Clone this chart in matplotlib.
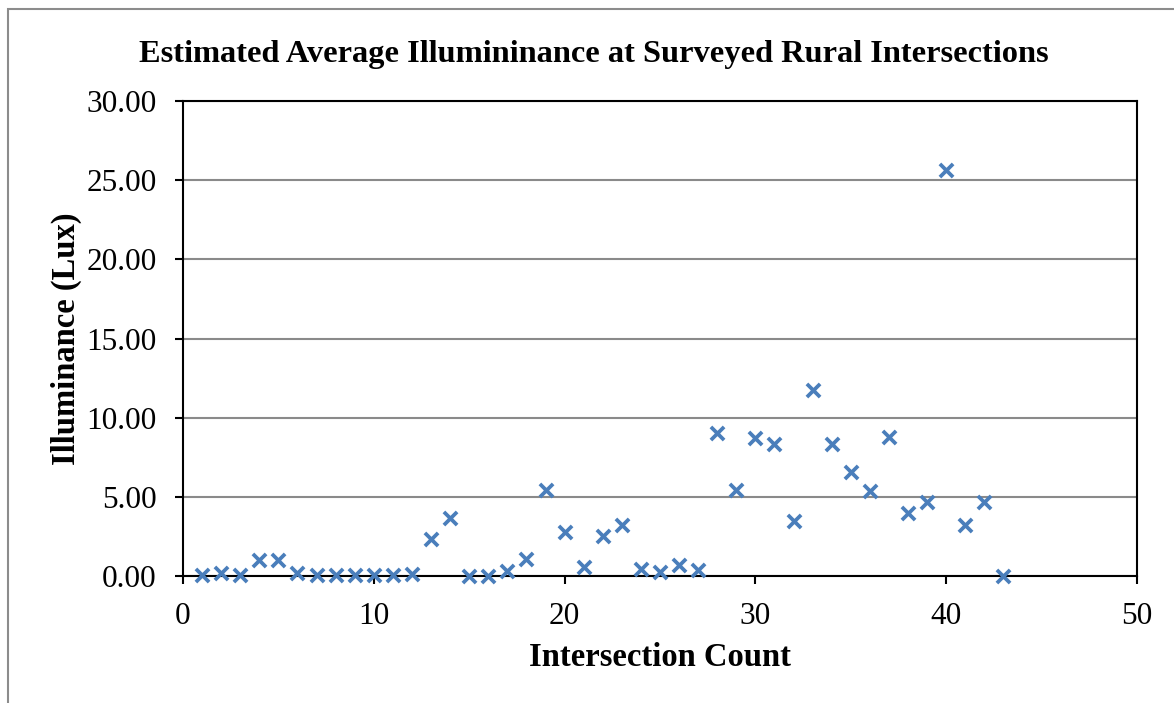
import matplotlib
matplotlib.use("Agg")
import matplotlib.pyplot as plt
from matplotlib.patches import Rectangle

intersection = list(range(1, 44))
illuminance = [0.05, 0.20, 0.05, 1.00, 1.00, 0.20, 0.05, 0.05, 0.05, 0.05,
               0.05, 0.15, 2.35, 3.65, 0.03, 0.03, 0.30, 1.05, 5.45, 2.80,
               0.55, 2.50, 3.20, 0.45, 0.25, 0.70, 0.40, 9.05, 5.45, 8.70,
               8.35, 3.50, 11.75, 8.35, 6.55, 5.40, 8.80, 4.00, 4.65, 25.65,
               3.25, 4.70, 0.03]
x_ticks = [0, 10, 20, 30, 40, 50]
y_ticks = [0, 5, 10, 15, 20, 25, 30]

title = "Estimated Average Illumininance at Surveyed Rural Intersections"
xlabel = "Intersection Count"
ylabel = "Illuminance (Lux)"

plt.rcParams['font.family'] = ['Liberation Serif', 'DejaVu Serif']

fig = plt.figure(figsize=(11.74, 7.03), dpi=100)
fig.patches.append(Rectangle((8/1174, -0.1), 1.2, 1 - 9/703 + 0.1,
                             transform=fig.transFigure, fill=False,
                             edgecolor='#8c8c8c', linewidth=1.5))
ax = fig.add_axes([183/1174, 1 - 576/703, (1137-183)/1174, (576-101)/703])

ax.scatter(intersection, illuminance, marker='x', s=90, color='#4a7ebb',
           linewidths=2.7, zorder=3, clip_on=False)

ax.set_xlim(0, 50)
ax.set_ylim(0, 30)
ax.set_xticks(x_ticks)
ax.set_yticks(y_ticks)
ax.set_yticklabels([f"{v:.2f}" for v in y_ticks])
ax.yaxis.grid(True, color='#8a8a8a', linewidth=1.5)
ax.set_axisbelow(True)
for s in ax.spines.values():
    s.set_color('black')
    s.set_linewidth(1.5)
ax.tick_params(axis='both', direction='out', length=6, width=1.5,
               labelsize=22.5, colors='black', pad=13)

ax.set_xlabel(xlabel, fontsize=23.5, fontweight='bold', labelpad=8)
ax.set_ylabel(ylabel, fontsize=23.5, fontweight='bold', labelpad=3)
fig.text(594/1174, 1 - 62/703, title, fontsize=23.3, fontweight='bold',
         ha='center', va='baseline')

fig.savefig("out.png", dpi=100)
